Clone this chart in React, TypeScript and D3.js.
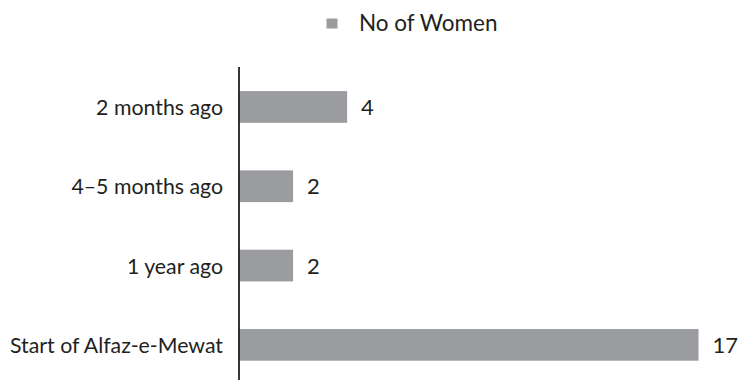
import React from "react";
import * as d3 from "d3";

const categories: string[] = [
  "2 months ago",
  "4–5 months ago",
  "1 year ago",
  "Start of Alfaz-e-Mewat",
];
const womenCounts: number[] = [4, 2, 2, 17];
const seriesName = "No of Women";

const WIDTH = 738;
const HEIGHT = 380;
const AXIS_X = 239;
const FONT = "Lato, 'Open Sans', 'DejaVu Sans', sans-serif";
const INK = "#231f20";
const BAR = "#9b9c9f";

export default function App() {
  const x = d3.scaleLinear().domain([0, 17]).range([AXIS_X, 698.5]);
  const y = d3
    .scaleBand<string>()
    .domain(categories)
    .range([67.3, 384.5])
    .paddingInner(0.6)
    .paddingOuter(0.3);

  return (
    <svg
      width={WIDTH}
      height={HEIGHT}
      style={{ position: "absolute", left: 0, top: 0, background: "#fff" }}
      fontFamily={FONT}
    >
      {/* legend */}
      <g>
        <rect x={326.5} y={18.5} width={11} height={10} fill={BAR} />
        <text x={359} y={30.5} fontSize={22.5} fill={INK}>
          {seriesName}
        </text>
      </g>

      {/* bars with value labels */}
      {categories.map((c, i) => {
        const v = womenCounts[i];
        const yy = y(c) ?? 0;
        const cy = yy + y.bandwidth() / 2;
        return (
          <g key={c}>
            <rect
              x={x(0)}
              y={yy}
              width={x(v) - x(0)}
              height={y.bandwidth()}
              fill={BAR}
            />
            <text x={x(v) + 14} y={cy + 8} fontSize={22} fill={INK}>
              {v}
            </text>
            <text
              x={223}
              y={cy + 8}
              fontSize={21.3}
              fill={INK}
              textAnchor="end"
            >
              {c}
            </text>
          </g>
        );
      })}

      {/* category axis */}
      <line
        x1={AXIS_X}
        x2={AXIS_X}
        y1={67}
        y2={y.range()[1]}
        stroke={INK}
        strokeWidth={1.8}
      />
    </svg>
  );
}
